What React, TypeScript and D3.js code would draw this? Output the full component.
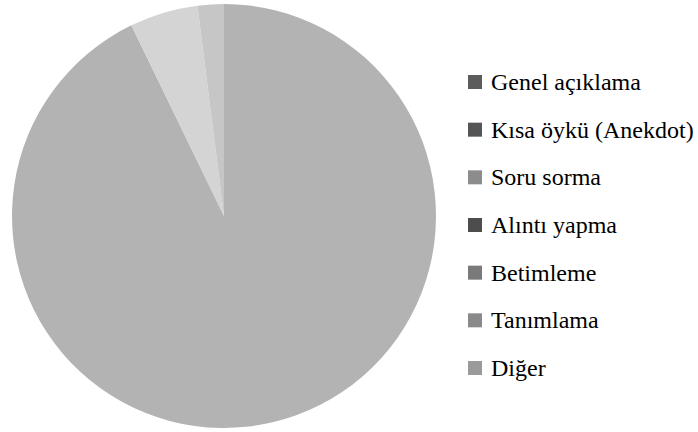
import React from "react";
import * as d3 from "d3";

const categories = [
  "Genel açıklama",
  "Kısa öykü (Anekdot)",
  "Soru sorma",
  "Alıntı yapma",
  "Betimleme",
  "Tanımlama",
  "Diğer",
];
const values = [92.8, 0, 0, 0, 0, 5.2, 2.0];
const sliceColors = ["#b3b3b3", "#b3b3b3", "#b3b3b3", "#b3b3b3", "#b3b3b3", "#d4d4d4", "#c6c6c6"];
const legendColors = ["#5c5c5c", "#555555", "#8c8c8c", "#4d4d4d", "#7a7a7a", "#8a8a8a", "#9a9a9a"];

export default function App() {
  const W = 698, H = 432;
  const cx = 224, cy = 216, r = 212;
  const data = categories.map((c, i) => ({ c, v: values[i], i }));
  const pie = d3.pie<any>().sort(null).value((d) => d.v);
  const arc = d3.arc<any>().innerRadius(0).outerRadius(r);
  const arcs = pie(data);
  const ly = d3.scalePoint<string>().domain(categories).range([82, 368]);
  return (
    <div style={{ position: "absolute", left: 0, top: 0 }}>
      <svg width={W} height={H}>
        <g transform={`translate(${cx},${cy})`}>
          {arcs.filter((a) => a.data.v > 0).map((a) => (
            <path key={a.data.c} d={arc(a) as string} fill={sliceColors[a.data.i]} />
          ))}
        </g>
        {categories.map((c, i) => (
          <rect key={"r" + c} x={468} y={(ly(c) as number) - 7} width={14} height={14} fill={legendColors[i]} />
        ))}
        {categories.map((c) => (
          <text
            key={"t" + c}
            x={491}
            y={(ly(c) as number) + 8}
            style={{ fontFamily: `"Liberation Serif"`, fontSize: "24px" }}
          >
            {c}
          </text>
        ))}
      </svg>
    </div>
  );
}
